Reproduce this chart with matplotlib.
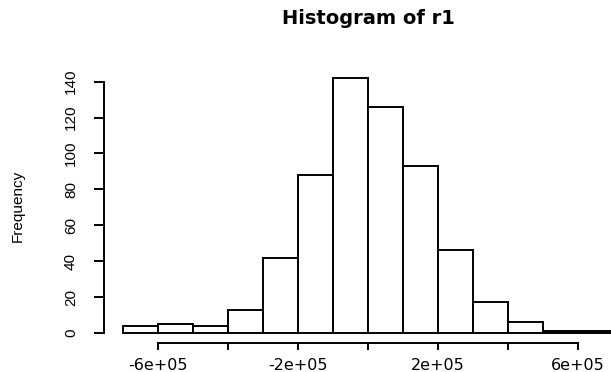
import numpy as np
import matplotlib
matplotlib.use("Agg")
from matplotlib import pyplot as plt

# histogram of r1: bin edges (width 1e5) and counts
edges = np.arange(-7e5, 7e5 + 1, 1e5)
counts = [4, 5, 4, 13, 42, 88, 142, 126, 93, 46, 17, 6, 1, 1]

xticks = [-6e5, -4e5, -2e5, 0, 2e5, 4e5, 6e5]
xlabels = ["-6e+05", "", "-2e+05", "", "2e+05", "", "6e+05"]
yticks = [0, 20, 40, 60, 80, 100, 120, 140]

W, H = 611, 372
fig = plt.figure(figsize=(W / 100, H / 100), dpi=100)

# plot region in pixels (R style: xlim/ylim padded by 4%)
left, right = 103.8, 632.6
top, bottom = 67.8, 343.2
ax = fig.add_axes([left / W, 1 - bottom / H, (right - left) / W, (bottom - top) / H])

ax.bar(edges[:-1], counts, width=1e5, align="edge",
       facecolor="white", edgecolor="black", linewidth=1.4)

ax.set_xlim(-7.56e5, 7.56e5)
ax.set_ylim(-5.68, 147.68)

for s in ["top", "right"]:
    ax.spines[s].set_visible(False)
ax.spines["left"].set_bounds(0, 140)
ax.spines["bottom"].set_bounds(-6e5, 6e5)
ax.spines["left"].set_linewidth(1.4)
ax.spines["bottom"].set_linewidth(1.4)

ax.set_xticks(xticks)
ax.set_xticklabels(xlabels, fontfamily="DejaVu Sans", fontsize=11.5)
ax.set_yticks(yticks)
ax.set_yticklabels([str(v) for v in yticks], fontfamily="Liberation Sans",
                   fontsize=11, rotation=90, va="center")
ax.tick_params(axis="x", length=5, width=1.4, pad=6)
ax.tick_params(axis="y", length=7.5, width=1.4, pad=11)

ax.set_ylabel("Frequency", fontfamily="Liberation Sans", fontsize=11, va="center")
ax.yaxis.set_label_coords((18 - left) / (right - left), 0.5)

ax.set_title("Histogram of r1", fontfamily="DejaVu Sans", fontweight="bold",
             fontsize=14, pad=0, y=(1 - 18 / H - (1 - top / H)) / ((bottom - top) / H) + 1,
             va="center")

fig.savefig("out.png", dpi=100)
